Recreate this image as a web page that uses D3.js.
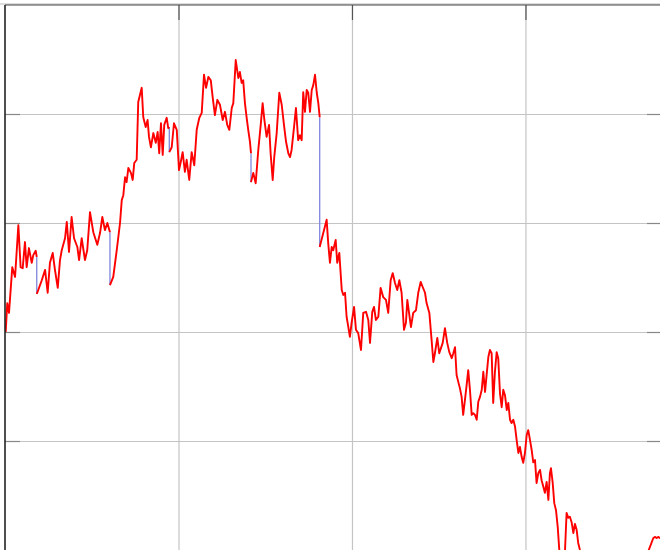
<!DOCTYPE html>
<html>
<head>
<meta charset="utf-8">
<script src="https://cdn.jsdelivr.net/npm/d3@7"></script>
<style>
html,body{margin:0;padding:0;background:#fff;overflow:hidden;}
svg{display:block;}
</style>
</head>
<body>
<svg id="chart" width="660" height="550"></svg>
<script>
// Data: [day, value] pairs per continuous segment; jumps between segments drawn as blue connectors
const seg1 = [[0.4,40.0],[1.3,45.3],[2.3,43.5],[4.2,51.9],[5.8,50.1],[7.7,59.6],[9.0,51.9],[10.2,51.7],[11.5,56.5],[12.5,51.9],[13.8,55.4],[15.4,52.7],[16.3,54.1],[17.7,54.9],[18.3,53.8]];
const seg2 = [[18.3,47.0],[18.6,47.2],[21.2,49.5],[23.1,51.4],[24.6,47.2],[25.9,52.7],[27.5,54.5],[28.8,51.4],[30.4,48.1],[31.7,53.2],[32.7,55.0],[34.6,57.2],[35.6,60.2],[36.9,54.7],[38.4,61.1],[39.8,57.2],[41.7,55.6],[42.7,53.2],[44.2,57.2],[46.1,53.2],[47.4,55.0],[49.0,62.0],[50.9,58.3],[53.2,56.0],[54.8,58.2],[56.1,61.1],[57.6,58.7],[59.0,60.0],[60.5,58.3]];
const seg3 = [[60.5,48.6],[62.4,50.1],[64.4,55.0],[66.3,60.0],[67.3,64.2],[68.2,65.1],[69.2,68.4],[70.1,67.5],[71.1,70.1],[72.6,69.2],[73.6,67.9],[74.5,71.0],[75.9,71.6],[76.8,82.2],[78.8,84.8],[79.7,79.4],[81.1,77.6],[82.2,78.9],[83.0,75.8],[84.1,73.9],[85.5,76.5],[86.9,74.7],[88.0,76.7],[88.9,72.8],[89.9,78.3],[90.9,72.5],[91.8,78.0],[93.2,79.3],[94.1,77.4],[94.7,77.6]];
const seg4 = [[94.7,73.0],[96.1,73.9],[97.4,78.3],[99.0,77.1],[100.3,69.7],[101.3,71.2],[102.4,73.0],[103.7,69.4],[104.7,71.6],[106.2,67.9],[107.6,73.0],[109.1,70.6],[110.5,77.1],[112.0,79.3],[113.4,80.2],[114.7,87.2],[115.9,84.8],[117.2,86.8],[118.6,86.2],[119.7,83.1],[121.0,79.8],[122.4,82.6],[123.9,81.7],[125.5,78.9],[126.8,80.4],[128.1,78.0],[129.3,77.1],[130.7,81.1],[131.6,82.0],[133.0,89.9],[134.5,86.6],[135.4,87.7],[136.4,85.7],[137.3,86.2],[138.3,82.0],[139.3,79.3],[140.2,77.1],[141.2,74.9],[141.8,72.8]];
const seg5 = [[141.8,67.5],[143.1,69.2],[144.5,67.3],[146.0,73.4],[147.4,78.0],[148.5,82.0],[149.5,78.9],[150.8,75.8],[152.2,78.0],[153.1,72.8],[154.3,67.9],[155.2,72.1],[156.6,76.5],[158.1,83.9],[159.5,81.7],[160.8,78.0],[162.0,74.9],[163.3,72.8],[164.3,72.1],[165.2,73.4],[166.6,77.6],[167.7,81.1],[169.0,75.2],[170.0,76.1],[171.0,75.2],[171.9,84.0],[172.9,80.4],[173.9,84.4],[174.8,83.9],[175.8,80.4],[176.8,84.4],[177.7,85.3],[178.7,87.2],[179.7,83.9],[180.6,82.0],[181.4,79.4]];
const seg6 = [[181.4,55.6],[185.4,60.6],[186.3,56.3],[187.3,52.7],[188.3,55.6],[189.2,55.0],[190.6,56.9],[191.5,52.7],[192.7,54.5],[194.1,47.7],[195.0,46.8],[196.0,47.2],[196.9,42.8],[197.9,40.9],[198.8,39.1],[199.8,41.7],[201.2,44.6],[202.3,40.4],[203.6,39.8],[205.2,36.7],[206.5,43.5],[208.1,43.7],[209.4,42.2],[210.4,38.0],[211.7,43.7],[212.7,44.6],[213.8,42.2],[215.2,42.8],[216.5,48.1],[218.0,46.4],[219.6,45.9],[220.9,43.5],[222.3,49.5],[223.5,50.8],[224.8,49.0],[226.1,47.7],[227.3,49.5],[228.6,47.2],[230.0,40.4],[231.1,41.7],[231.9,45.9],[232.9,43.5],[234.0,40.9],[235.3,43.5],[236.9,44.0],[238.2,47.2],[239.6,49.2],[240.7,48.3],[242.1,47.2],[243.0,45.3],[244.6,43.5],[245.9,38.5],[246.9,34.5],[247.8,36.1],[249.2,38.9],[250.3,36.1],[252.3,38.0],[253.6,40.7],[254.9,38.0],[256.1,36.3],[257.5,35.2],[258.4,36.1],[259.4,37.2],[260.3,32.1],[261.3,30.8],[262.2,29.7],[263.2,28.1],[264.1,24.8],[265.1,27.5],[266.1,30.3],[267.0,33.0],[268.0,29.4],[269.0,24.8],[269.9,25.1],[270.9,24.8],[271.9,23.9],[272.8,27.2],[273.8,28.1],[274.8,29.4],[275.7,32.7],[276.7,29.0],[277.6,32.1],[278.6,35.4],[279.5,36.7],[280.5,36.1],[281.4,27.0],[282.4,32.7],[283.4,36.3],[284.3,35.2],[285.3,28.8],[286.3,26.2],[287.2,29.4],[288.2,28.4],[289.2,25.7],[290.1,27.0],[291.1,23.9],[292.0,23.3],[293.0,23.9],[294.0,22.6],[294.9,20.2],[295.9,17.8],[296.8,18.9],[297.8,17.1],[298.7,16.0],[299.7,17.8],[300.7,21.1],[301.6,22.0],[302.6,20.2],[303.6,18.3],[304.5,16.1],[305.5,16.5],[306.4,12.3],[307.4,14.1],[308.4,14.7],[309.3,12.8],[310.3,11.6],[311.2,10.5],[312.2,12.5],[313.2,9.2],[314.1,14.1],[314.7,15.0],[315.7,12.3],[316.6,8.6],[317.6,7.3],[318.6,4.2],[319.5,0],[320.5,-2.8],[321.6,-1.8],[322.8,0],[323.7,6.8],[324.7,5.9],[325.6,6.1],[326.6,5.1],[327.6,3.1],[328.5,4.8],[329.5,3.7],[330.4,1.3],[331.4,0],[334.3,-2.8],[338.3,-4.6],[342.9,-3.7],[348.7,-5.5],[354.5,-4.0],[360.2,-3.3],[366.0,-1.8],[370.6,-0.4],[373.7,2.2],[374.6,2.4],[375.6,2.2],[376.5,2.4],[377.5,2.2],[379.8,1.8]];
const segments = [seg1, seg2, seg3, seg4, seg5, seg6];
const xTicks = [100, 200, 300];
const yTicks = [20, 40, 60, 80];

const svg = d3.select("#chart");
const mL = 5, mT = 5, mR = 662, mB = 550;
const x = d3.scaleLinear().domain([0, 378.7]).range([mL, mR]);
const y = d3.scaleLinear().domain([0, 100]).range([mB, mT]);

svg.append("defs").append("clipPath").attr("id","plot")
  .append("rect").attr("x", mL).attr("y", mT).attr("width", mR-mL).attr("height", mB-mT);

// gridlines
svg.append("g").attr("transform", `translate(${mL},0)`)
  .call(d3.axisLeft(y).tickValues(yTicks).tickSize(-(mR-mL)).tickFormat(""))
  .call(g => g.select(".domain").remove())
  .call(g => g.selectAll("line").attr("stroke", "#c4c4c4").attr("stroke-width", 1.2));
svg.append("g").attr("transform", `translate(0,${mT})`)
  .call(d3.axisTop(x).tickValues(xTicks).tickSize(-(mB-mT)).tickFormat(""))
  .call(g => g.select(".domain").remove())
  .call(g => g.selectAll("line").attr("stroke", "#c4c4c4").attr("stroke-width", 1.2));

// inner ticks
svg.append("g").attr("transform", `translate(${mL},0)`)
  .call(d3.axisLeft(y).tickValues(yTicks).tickSize(-15).tickFormat(""))
  .call(g => g.select(".domain").remove())
  .call(g => g.selectAll("line").attr("stroke", "#888").attr("stroke-width", 1.2));
svg.append("g").attr("transform", `translate(${mR},0)`)
  .call(d3.axisRight(y).tickValues(yTicks).tickSize(-15).tickFormat(""))
  .call(g => g.select(".domain").remove())
  .call(g => g.selectAll("line").attr("stroke", "#888").attr("stroke-width", 1.2));
svg.append("g").attr("transform", `translate(0,${mT})`)
  .call(d3.axisTop(x).tickValues(xTicks).tickSize(-15).tickFormat(""))
  .call(g => g.select(".domain").remove())
  .call(g => g.selectAll("line").attr("stroke", "#555").attr("stroke-width", 1.2));

// lines
const plot = svg.append("g").attr("clip-path", "url(#plot)");
const line = d3.line().x(d => x(d[0])).y(d => y(d[1]));
for (let i = 1; i < segments.length; i++) {
  const a = segments[i-1][segments[i-1].length-1];
  const b = segments[i][0];
  plot.append("path").attr("d", line([a, b]))
    .attr("fill", "none").attr("stroke", "#7f86dc").attr("stroke-width", 1.3);
}
segments.forEach(s => {
  plot.append("path").attr("d", line(s))
    .attr("fill", "none").attr("stroke", "#ff0000").attr("stroke-width", 1.9)
    .attr("stroke-linejoin", "round");
});

// frame: top border and left axis
svg.append("line").attr("x1", 0).attr("x2", 660).attr("y1", mT-1).attr("y2", mT-1)
  .attr("stroke", "#bbb").attr("stroke-width", 1);
svg.append("line").attr("x1", mL).attr("x2", 660).attr("y1", mT).attr("y2", mT)
  .attr("stroke", "#444").attr("stroke-width", 1.2);
svg.append("line").attr("x1", mL).attr("x2", mL).attr("y1", mT).attr("y2", 550)
  .attr("stroke", "#222").attr("stroke-width", 1.6);
</script>
</body>
</html>
